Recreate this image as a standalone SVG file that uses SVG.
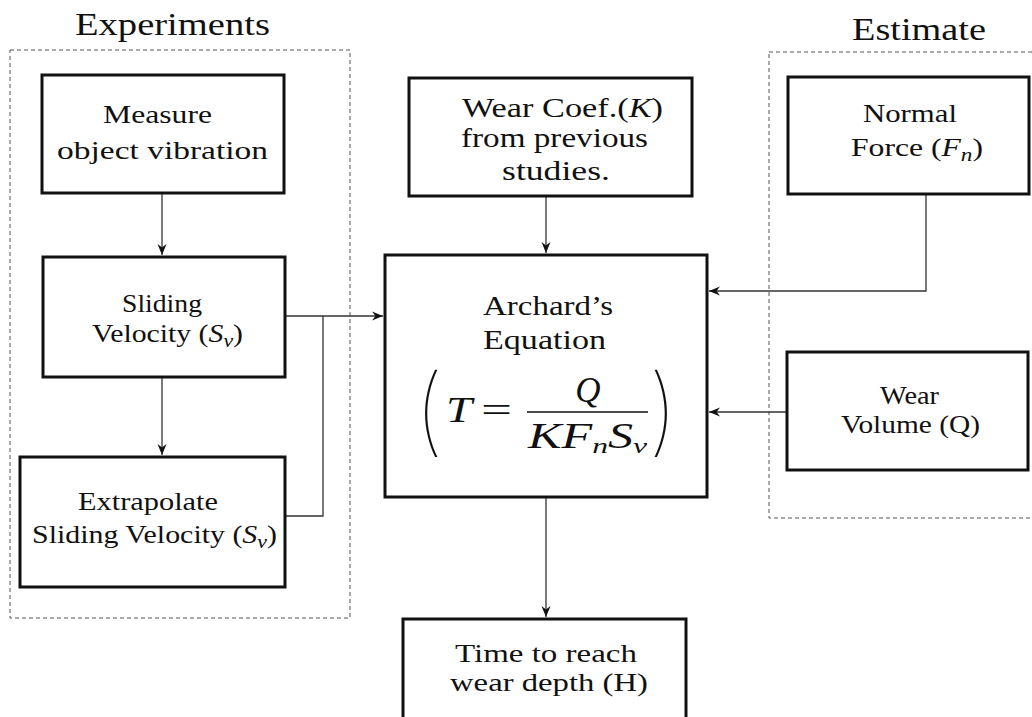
<svg xmlns="http://www.w3.org/2000/svg" width="1032" height="717" viewBox="0 0 1032 717">
<style>
text{font-family:"Liberation Serif","Times New Roman",serif;fill:#111;}
.t{font-size:26px;}
.tl{font-size:28px;}
.ttl{font-size:31px;}
.eq{font-size:35px;}
.i{font-style:italic;}
.sub{font-size:22px;font-style:italic;}
.sb{font-size:19px;font-style:italic;}
.par{font-family:Inter,"DejaVu Sans",sans-serif;font-weight:100;font-size:96px;}
.box{fill:#fff;stroke:#111;stroke-width:3;}
.grp{fill:none;stroke:#555;stroke-width:1;stroke-dasharray:4 3;}
.c{fill:none;stroke:#333;stroke-width:1.3;}
</style>
<defs>
<marker id="ah" markerUnits="userSpaceOnUse" markerWidth="14" markerHeight="12" viewBox="-12 -6 14 12" refX="0" refY="0" orient="auto">
<path d="M0,0 L-11,-4.5 L-7.5,0 L-11,4.5 Z" fill="#111"/>
</marker>
</defs>
<rect width="1032" height="717" fill="#fff"/>

<g id="group-experiments">
<rect class="grp" x="10" y="50" width="340" height="568"/>
<text class="ttl" x="75" y="35" textLength="195" lengthAdjust="spacingAndGlyphs">Experiments</text>
</g>
<g id="group-estimate">
<rect class="grp" x="769" y="52" width="300" height="466"/>
<text class="ttl" x="852" y="40" textLength="134" lengthAdjust="spacingAndGlyphs">Estimate</text>
</g>

<g id="connectors">
<path class="c" d="M162,193 V255" marker-end="url(#ah)"/>
<path class="c" d="M162,377 V455" marker-end="url(#ah)"/>
<path class="c" d="M285,316 H383" marker-end="url(#ah)"/>
<path class="c" d="M285,516 H323 V316"/>
<path class="c" d="M546,196 V253" marker-end="url(#ah)"/>
<path class="c" d="M926,194 V291 H709" marker-end="url(#ah)"/>
<path class="c" d="M787,412 H709" marker-end="url(#ah)"/>
<path class="c" d="M546,497 V617" marker-end="url(#ah)"/>
</g>

<g id="measure">
<rect class="box" x="42" y="75" width="242" height="118"/>
<text class="t" x="103" y="123" textLength="109" lengthAdjust="spacingAndGlyphs">Measure</text>
<text class="t" x="57" y="159" textLength="211" lengthAdjust="spacingAndGlyphs">object vibration</text>
</g>

<g id="sliding">
<rect class="box" x="43" y="257" width="242" height="120"/>
<text class="t" x="122" y="312" textLength="80" lengthAdjust="spacingAndGlyphs">Sliding</text>
<text class="t" x="92" y="342" textLength="151" lengthAdjust="spacingAndGlyphs">Velocity (<tspan class="i">S</tspan><tspan class="sb" dy="5">v</tspan><tspan dy="-5">)</tspan></text>
</g>

<g id="extrapolate">
<rect class="box" x="20" y="457" width="265" height="130"/>
<text class="t" x="78" y="510" textLength="140" lengthAdjust="spacingAndGlyphs">Extrapolate</text>
<text class="t" x="32" y="543" textLength="245" lengthAdjust="spacingAndGlyphs">Sliding Velocity (<tspan class="i">S</tspan><tspan class="sb" dy="5">v</tspan><tspan dy="-5">)</tspan></text>
</g>

<g id="wearcoef">
<rect class="box" x="409" y="78" width="283" height="118"/>
<text class="tl" x="462" y="117" textLength="201" lengthAdjust="spacingAndGlyphs">Wear Coef.(<tspan class="i">K</tspan>)</text>
<text class="tl" x="461" y="147" textLength="187" lengthAdjust="spacingAndGlyphs">from previous</text>
<text class="tl" x="502" y="180" textLength="108" lengthAdjust="spacingAndGlyphs">studies.</text>
</g>

<g id="archard">
<rect class="box" x="385" y="255" width="322" height="242"/>
<text class="tl" x="483" y="315" textLength="130" lengthAdjust="spacingAndGlyphs">Archard’s</text>
<text class="tl" x="483" y="349" textLength="123" lengthAdjust="spacingAndGlyphs">Equation</text>
<text class="par" x="414" y="444" textLength="30" lengthAdjust="spacingAndGlyphs">(</text>
<text class="par" x="648" y="444" textLength="30" lengthAdjust="spacingAndGlyphs">)</text>
<text class="eq i" x="446" y="422" textLength="26" lengthAdjust="spacingAndGlyphs">T</text>
<text class="eq" x="481" y="422" textLength="31" lengthAdjust="spacingAndGlyphs">=</text>
<line x1="527" y1="412" x2="648" y2="412" stroke="#111" stroke-width="1.6"/>
<text class="eq i" x="588" y="402" text-anchor="middle">Q</text>
<text class="eq" x="528" y="448" textLength="119" lengthAdjust="spacingAndGlyphs"><tspan class="i">K</tspan><tspan class="i">F</tspan><tspan class="sub" dy="5">n</tspan><tspan class="i" dy="-5">S</tspan><tspan class="sub" dy="5">v</tspan></text>
</g>

<g id="normalforce">
<rect class="box" x="788" y="77" width="241" height="117"/>
<text class="t" x="863" y="122" textLength="94" lengthAdjust="spacingAndGlyphs">Normal</text>
<text class="t" x="851" y="156" textLength="132" lengthAdjust="spacingAndGlyphs">Force (<tspan class="i">F</tspan><tspan class="sb" dy="5">n</tspan><tspan dy="-5">)</tspan></text>
</g>

<g id="wearvolume">
<rect class="box" x="787" y="352" width="241" height="118"/>
<text class="t" x="880" y="404" textLength="59" lengthAdjust="spacingAndGlyphs">Wear</text>
<text class="t" x="841" y="433" textLength="139" lengthAdjust="spacingAndGlyphs">Volume (Q)</text>
</g>

<g id="time">
<rect class="box" x="403" y="619" width="283" height="120"/>
<text class="t" x="455" y="662" textLength="182" lengthAdjust="spacingAndGlyphs">Time to reach</text>
<text class="t" x="450" y="691" textLength="198" lengthAdjust="spacingAndGlyphs">wear depth (H)</text>
</g>
</svg>
